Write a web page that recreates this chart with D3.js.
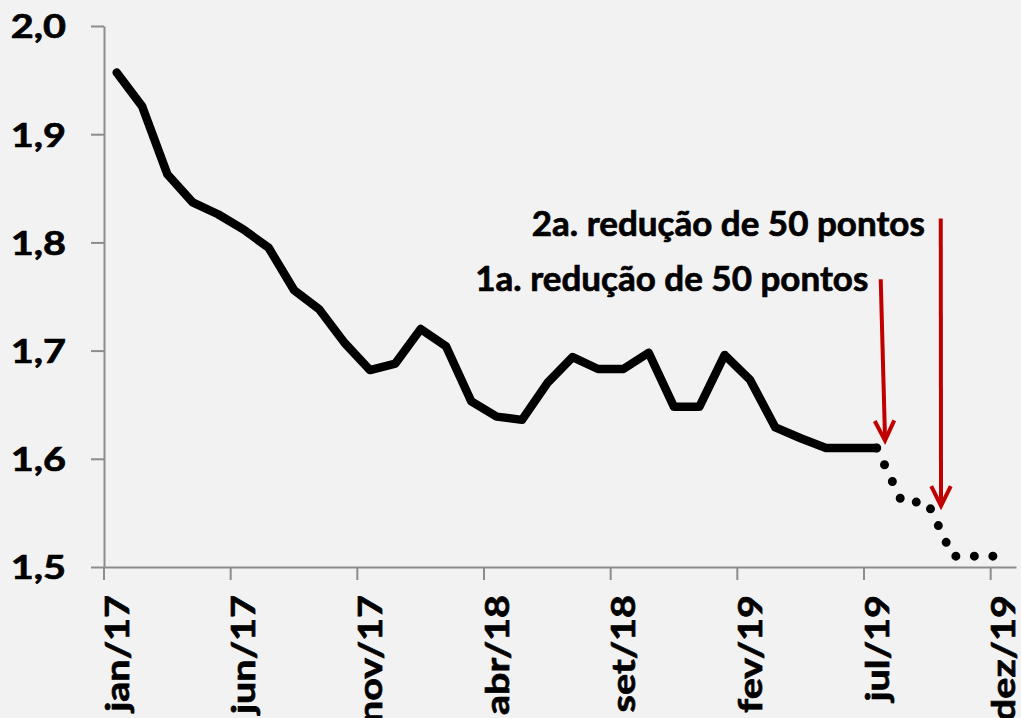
<!DOCTYPE html>
<html>
<head>
<meta charset="utf-8">
<script src="https://cdn.jsdelivr.net/npm/d3@7"></script>
<style>
  body { margin: 0; background: #f2f2f2; }
  svg { display: block; }
  text { font-family: Lato, "Noto Sans", sans-serif; font-weight: bold; fill: #000; stroke: #000; stroke-width: 0.7; }
</style>
</head>
<body>
<div id="container"></div>
<script>
// data

const months = ["jan","fev","mar","abr","mai","jun","jul","ago","set","out","nov","dez"];
const years = ["17", "18", "19"];
const categories = years.flatMap(yr => months.map(m => m + "/" + yr)); // jan/17 .. dez/19

// observed (solid), jan/17 .. jul/19
const observed = [1.957, 1.926, 1.863, 1.837, 1.826, 1.812, 1.795, 1.756, 1.738, 1.707,
                  1.682, 1.688, 1.720, 1.704, 1.653, 1.639, 1.636, 1.670, 1.694, 1.683,
                  1.683, 1.698, 1.648, 1.648, 1.696, 1.673, 1.629, 1.619, 1.610, 1.610,
                  1.610];
// projected (dotted), jul/19 .. dez/19
const projected = [1.610, 1.560, 1.560, 1.510, 1.510, 1.510];
const projectedStart = 30;

const yTicks = [1.5, 1.6, 1.7, 1.8, 1.9, 2.0];
const xTickEvery = 5;

// annotations: arrow from (top index, top value) to (tip index, tip value)
const notes = [
  { label: "1a. redução de 50 pontos", i1: 30.16, v1: 1.766, i2: 30.33, v2: 1.617, tx: 29.67, tv: 1.7551 },
  { label: "2a. redução de 50 pontos", i1: 32.53, v1: 1.822, i2: 32.54, v2: 1.5565, tx: 31.9, tv: 1.8060 }
];

// variables

const width = 1021;
const height = 718;
const mLeft = 104, mRight = 1016, mTop = 26, mBottom = 567;

// scales

const xScale = d3.scaleBand()
  .domain(categories)
  .range([mLeft, mRight]);
const bw = xScale.bandwidth();
const xIdx = i => mLeft + (i + 0.5) * bw; // fractional category index -> px

const yScale = d3.scaleLinear()
  .domain([1.5, 2.0])
  .range([mBottom, mTop]);

// elements

const svg = d3.select("#container")
  .append("svg")
  .attr("width", width)
  .attr("height", height);

svg.append("rect")
  .attr("width", width)
  .attr("height", height)
  .attr("fill", "#f2f2f2");

// y axis
const yAxis = svg.append("g")
  .attr("transform", `translate(${mLeft},0)`)
  .call(d3.axisLeft(yScale)
    .tickValues(yTicks)
    .tickSize(13)
    .tickSizeOuter(0)
    .tickFormat(d => d.toFixed(1).replace(".", ",")));

yAxis.select(".domain").attr("stroke", "#8c8c8c").attr("stroke-width", 2);
yAxis.selectAll(".tick line").attr("stroke", "#8c8c8c").attr("stroke-width", 2);
yAxis.selectAll(".tick text")
  .attr("font-size", 33)
  .attr("x", -38 / 1.2)
  .attr("dy", "0.36em")
  .attr("transform", "scale(1.2,1)")
  .style("font-family", "Lato, sans-serif");

// x axis
const xAxis = svg.append("g")
  .attr("transform", `translate(0,${mBottom})`)
  .call(d3.axisBottom(xScale)
    .tickValues(categories.filter((d, i) => i % xTickEvery === 0))
    .tickSize(13)
    .tickSizeOuter(0));

xAxis.select(".domain").attr("stroke", "#8c8c8c").attr("stroke-width", 2);
xAxis.selectAll(".tick line")
  .attr("stroke", "#8c8c8c")
  .attr("stroke-width", 2)
  .attr("x1", -bw / 2)
  .attr("x2", -bw / 2);
xAxis.selectAll(".tick text")
  .attr("font-size", 33)
  .attr("text-anchor", "end")
  .attr("x", -28 / 1.2)
  .attr("y", 12)
  .attr("dy", 0)
  .attr("transform", "rotate(-90) scale(1.2,1)")
  .style("font-family", "Lato, sans-serif");

// lines

const line = d3.line()
  .x(d => xIdx(d.i))
  .y(d => yScale(d.v));

svg.append("path")
  .datum(projected.map((v, k) => ({ i: projectedStart + k, v })))
  .attr("d", line)
  .attr("fill", "none")
  .attr("stroke", "#000")
  .attr("stroke-width", 9)
  .attr("stroke-linecap", "round")
  .attr("stroke-dasharray", "0 18.5");

svg.append("path")
  .datum(observed.map((v, i) => ({ i, v })))
  .attr("d", line)
  .attr("fill", "none")
  .attr("stroke", "#000")
  .attr("stroke-width", 8.5)
  .attr("stroke-linejoin", "round")
  .attr("stroke-linecap", "round");

// annotations

const red = "#c00000";
notes.forEach(n => {
  const x1 = xIdx(n.i1), y1 = yScale(n.v1), x2 = xIdx(n.i2), y2 = yScale(n.v2);
  const ang = Math.atan2(y2 - y1, x2 - x1);
  const len = 22, spread = 0.46;
  const a = [x2 - len * Math.cos(ang - spread), y2 - len * Math.sin(ang - spread)];
  const b = [x2 - len * Math.cos(ang + spread), y2 - len * Math.sin(ang + spread)];

  svg.append("line")
    .attr("x1", x1).attr("y1", y1)
    .attr("x2", x2).attr("y2", y2 - 2)
    .attr("stroke", red)
    .attr("stroke-width", 4);

  svg.append("polyline")
    .attr("points", [a, [x2, y2], b].map(p => p.join(",")).join(" "))
    .attr("fill", "none")
    .attr("stroke", red)
    .attr("stroke-width", 4)
    .attr("stroke-linejoin", "miter");

  svg.append("text")
    .attr("x", xIdx(n.tx))
    .attr("y", yScale(n.tv))
    .attr("text-anchor", "end")
    .attr("font-size", 35)
    .text(n.label);
});
</script>
</body>
</html>
